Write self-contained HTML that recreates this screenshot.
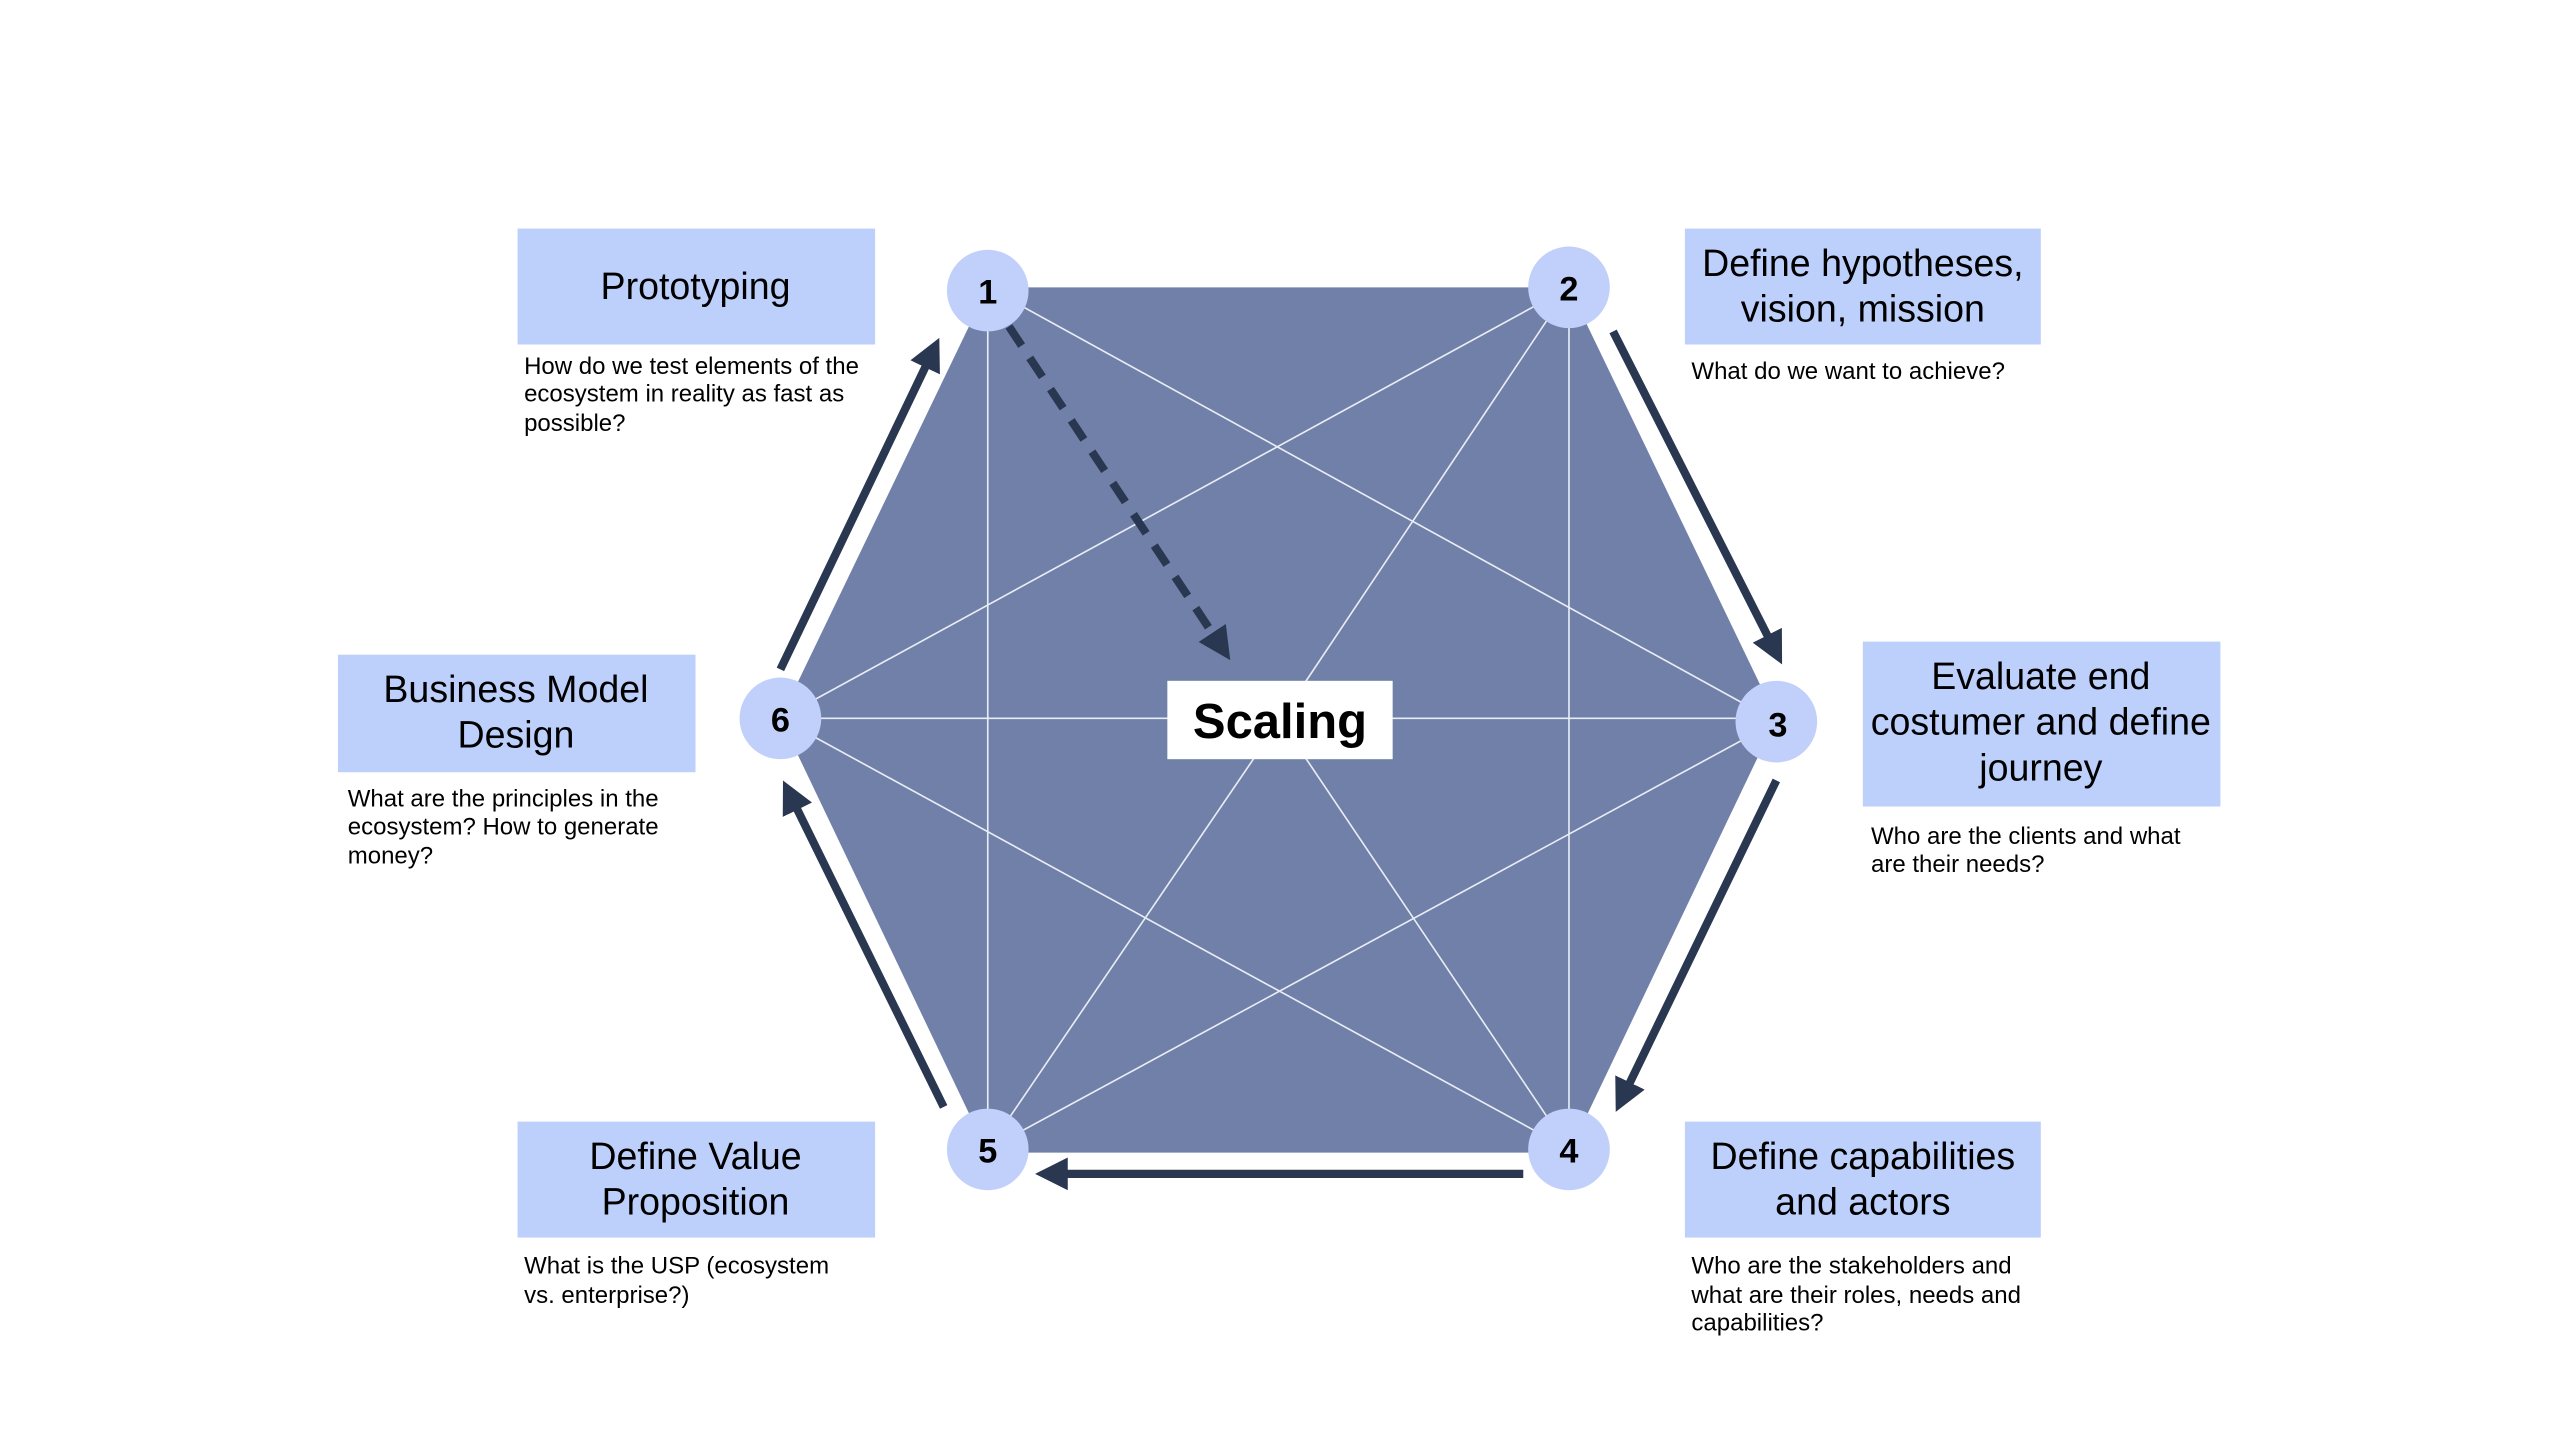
<!DOCTYPE html>
<html><head><meta charset="utf-8"><style>
html,body{margin:0;padding:0;background:#fff;width:2560px;height:1440px;overflow:hidden}
svg{display:block}
text{font-family:"Liberation Sans",Arial,sans-serif;fill:#000}
.h{font-size:23px;text-anchor:middle}
.d{font-size:14.7px}
.n{font-size:21px;font-weight:bold;text-anchor:middle}
</style></head><body>
<svg width="2560" height="1440" viewBox="0 0 1568 882" xmlns="http://www.w3.org/2000/svg">
<defs>
<marker id="a" markerWidth="4" markerHeight="4" refX="2" refY="2" orient="auto" markerUnits="strokeWidth">
<path d="M0,0 L4,2 L0,4 z" fill="#2a3750"/></marker>
</defs>
<polygon points="605,176 961,176 1088,440 961,706 605,706 478,440" fill="#7080a8"/>
<g stroke="#e8ecf5" stroke-width="1" fill="none">
<line x1="605" y1="176" x2="1088" y2="442"/>
<line x1="478" y1="440" x2="961" y2="176"/>
<line x1="478" y1="440" x2="961" y2="704"/>
<line x1="605" y1="704" x2="1088" y2="442"/>
<line x1="605" y1="176" x2="605" y2="704"/>
<line x1="961" y1="176" x2="961" y2="704"/>
<line x1="478" y1="440" x2="1088" y2="440"/>
<line x1="961" y1="176" x2="784" y2="441"/>
<line x1="784" y1="441" x2="605" y2="704"/>
<line x1="784" y1="441" x2="961" y2="704"/>
</g>
<g stroke="#fff" stroke-width="14" fill="none" stroke-linecap="butt">
<line x1="478" y1="410" x2="572" y2="214"/>
<line x1="988" y1="203" x2="1088" y2="400"/>
<line x1="1088" y1="478" x2="993" y2="674"/>
<line x1="933" y1="719" x2="642" y2="719"/>
<line x1="578" y1="678" x2="483" y2="485"/>
</g>
<g stroke="#2a3750" stroke-width="5" fill="none" marker-end="url(#a)">
<line x1="478" y1="410" x2="571" y2="216"/>
<line x1="988" y1="203" x2="1087" y2="398"/>
<line x1="1088" y1="478" x2="994" y2="672"/>
<line x1="933" y1="719" x2="644" y2="719"/>
<line x1="578" y1="678" x2="484" y2="487"/>
<line x1="618" y1="200" x2="748" y2="396" stroke-dasharray="14,9"/>
</g>
<rect x="715" y="417" width="138" height="48" fill="#fff"/>
<text x="784" y="452" font-size="30" font-weight="bold" text-anchor="middle">Scaling</text>
<g fill="#c0d0fa">
<circle cx="605" cy="178" r="25"/><circle cx="961" cy="176" r="25"/>
<circle cx="1088" cy="442" r="25"/><circle cx="961" cy="704" r="25"/>
<circle cx="605" cy="704" r="25"/><circle cx="478" cy="440" r="25"/>
</g>
<text class="n" x="605" y="186">1</text><text class="n" x="961" y="184">2</text>
<text class="n" x="1089" y="451">3</text><text class="n" x="961" y="712">4</text>
<text class="n" x="605" y="712">5</text><text class="n" x="478" y="448">6</text>
<g fill="#bdd0fb">
<rect x="317" y="140" width="219" height="71"/>
<rect x="1032" y="140" width="218" height="71"/>
<rect x="1141" y="393" width="219" height="101"/>
<rect x="207" y="401" width="219" height="72"/>
<rect x="317" y="687" width="219" height="71"/>
<rect x="1032" y="687" width="218" height="71"/>
</g>
<text class="h" x="426" y="183">Prototyping</text>
<text class="h" x="1141" y="169">Define hypotheses,</text>
<text class="h" x="1141" y="197">vision, mission</text>
<text class="h" x="1250" y="422">Evaluate end</text>
<text class="h" x="1250" y="450">costumer and define</text>
<text class="h" x="1250" y="478">journey</text>
<text class="h" x="316" y="430">Business Model</text>
<text class="h" x="316" y="458">Design</text>
<text class="h" x="426" y="716">Define Value</text>
<text class="h" x="426" y="744">Proposition</text>
<text class="h" x="1141" y="716">Define capabilities</text>
<text class="h" x="1141" y="744">and actors</text>
<text class="d" x="321" y="229">How do we test elements of the</text>
<text class="d" x="321" y="246">ecosystem in reality as fast as</text>
<text class="d" x="321" y="264">possible?</text>
<text class="d" x="1036" y="232">What do we want to achieve?</text>
<text class="d" x="1146" y="517">Who are the clients and what</text>
<text class="d" x="1146" y="534">are their needs?</text>
<text class="d" x="213" y="494">What are the principles in the</text>
<text class="d" x="213" y="511">ecosystem? How to generate</text>
<text class="d" x="213" y="529">money?</text>
<text class="d" x="321" y="780">What is the USP (ecosystem</text>
<text class="d" x="321" y="798">vs. enterprise?)</text>
<text class="d" x="1036" y="780">Who are the stakeholders and</text>
<text class="d" x="1036" y="798">what are their roles, needs and</text>
<text class="d" x="1036" y="815">capabilities?</text>
</svg>
</body></html>
